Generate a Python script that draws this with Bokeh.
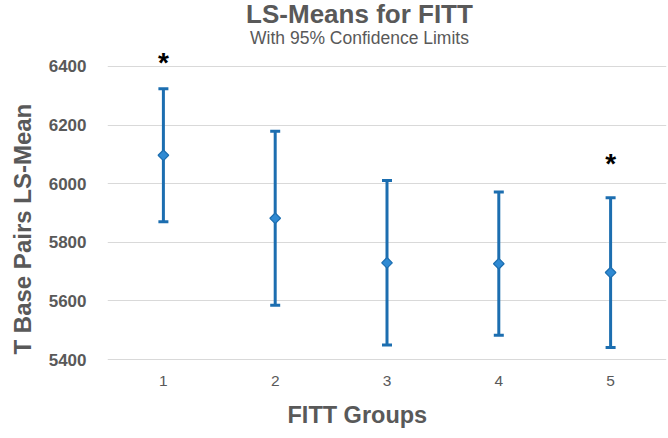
import numpy as np
from bokeh.plotting import figure
from bokeh.models import (ColumnDataSource, Range1d, FixedTicker, Whisker, TeeHead, Title, Label)
from bokeh.core.properties import value
from bokeh.embed import file_html
from bokeh.resources import INLINE

# ---- data ----
groups = [1, 2, 3, 4, 5]
ls_mean = [6097, 5882, 5730, 5727, 5697]
upper_cl = [6324, 6179, 6011, 5972, 5952]
lower_cl = [5870, 5585, 5450, 5483, 5441]
y_ticks = [5400, 5600, 5800, 6000, 6200, 6400]
star_groups = [1, 5]
star_y = [6412, 6068]

FONT = "Liberation Sans"
GRAY = "#595959"
BLUE = "#1c6eb0"
FILL = "#2f8ad3"

src = ColumnDataSource(data=dict(g=groups, m=ls_mean, up=upper_cl, lo=lower_cl))

# frame spans from the top of the canvas so that the title labels sit inside it
p = figure(width=668, height=438, output_backend="svg", toolbar_location=None,
           x_range=Range1d(0.5, 5.5), y_range=Range1d(5390, 6625),
           min_border_left=107, min_border_right=2, min_border_top=0, min_border_bottom=75)
p.outline_line_color = None
p.background_fill_color = "white"
p.border_fill_color = "white"

p.xgrid.grid_line_color = None
p.ygrid.grid_line_color = "#d9d9d9"
p.ygrid.grid_line_width = 1

p.yaxis.ticker = FixedTicker(ticks=y_ticks)
p.xaxis.ticker = FixedTicker(ticks=groups)
for ax in (p.xaxis, p.yaxis):
    ax.axis_line_color = None
    ax.major_tick_line_color = None
    ax.minor_tick_line_color = None
    ax.major_label_text_font = FONT
    ax.major_label_text_color = GRAY
p.yaxis.major_label_text_font_size = "17px"
p.yaxis.major_label_text_font_style = "bold"
p.yaxis.major_label_standoff = 15
p.xaxis.major_label_text_font_size = "15.5px"
p.xaxis.major_label_standoff = 7

w = Whisker(base="g", upper="up", lower="lo", source=src, line_color=BLUE, line_width=3,
            upper_head=TeeHead(size=10, line_color=BLUE, line_width=3),
            lower_head=TeeHead(size=10, line_color=BLUE, line_width=3))
p.add_layout(w)

p.scatter("g", "m", source=src, marker="square", angle=np.pi / 4, size=7.5,
          fill_color=FILL, line_color=BLUE, line_width=1.2)

p.text(x=star_groups, y=star_y, text=["*"] * len(star_groups), text_font=value(FONT),
       text_font_size="28px", text_font_style="bold", text_color="black",
       text_align="center", text_baseline="alphabetic")

# chart title and subtitle (screen units, relative to the frame's bottom-left corner)
p.add_layout(Label(x=252, y=348.5, x_units="screen", y_units="screen", text="LS-Means for FITT",
                   text_font=FONT, text_font_size="26px", text_font_style="bold",
                   text_color=GRAY, text_align="center", text_baseline="alphabetic"))
p.add_layout(Label(x=252, y=324.5, x_units="screen", y_units="screen",
                   text="With 95% Confidence Limits", text_font=FONT, text_font_size="17.5px",
                   text_color=GRAY, text_align="center", text_baseline="alphabetic"))

# axis titles
p.add_layout(Title(text="FITT Groups", align="left", offset=180,
                   text_font=FONT, text_font_size="23.5px", text_font_style="bold",
                   text_color=GRAY, standoff=22), "below")
p.add_layout(Title(text="T Base Pairs LS-Mean", align="left", offset=8, vertical_align="top",
                   text_font=FONT, text_font_size="24px", text_font_style="bold",
                   text_color=GRAY, standoff=15), "left")

open("out.html", "w").write(file_html(p, INLINE))
